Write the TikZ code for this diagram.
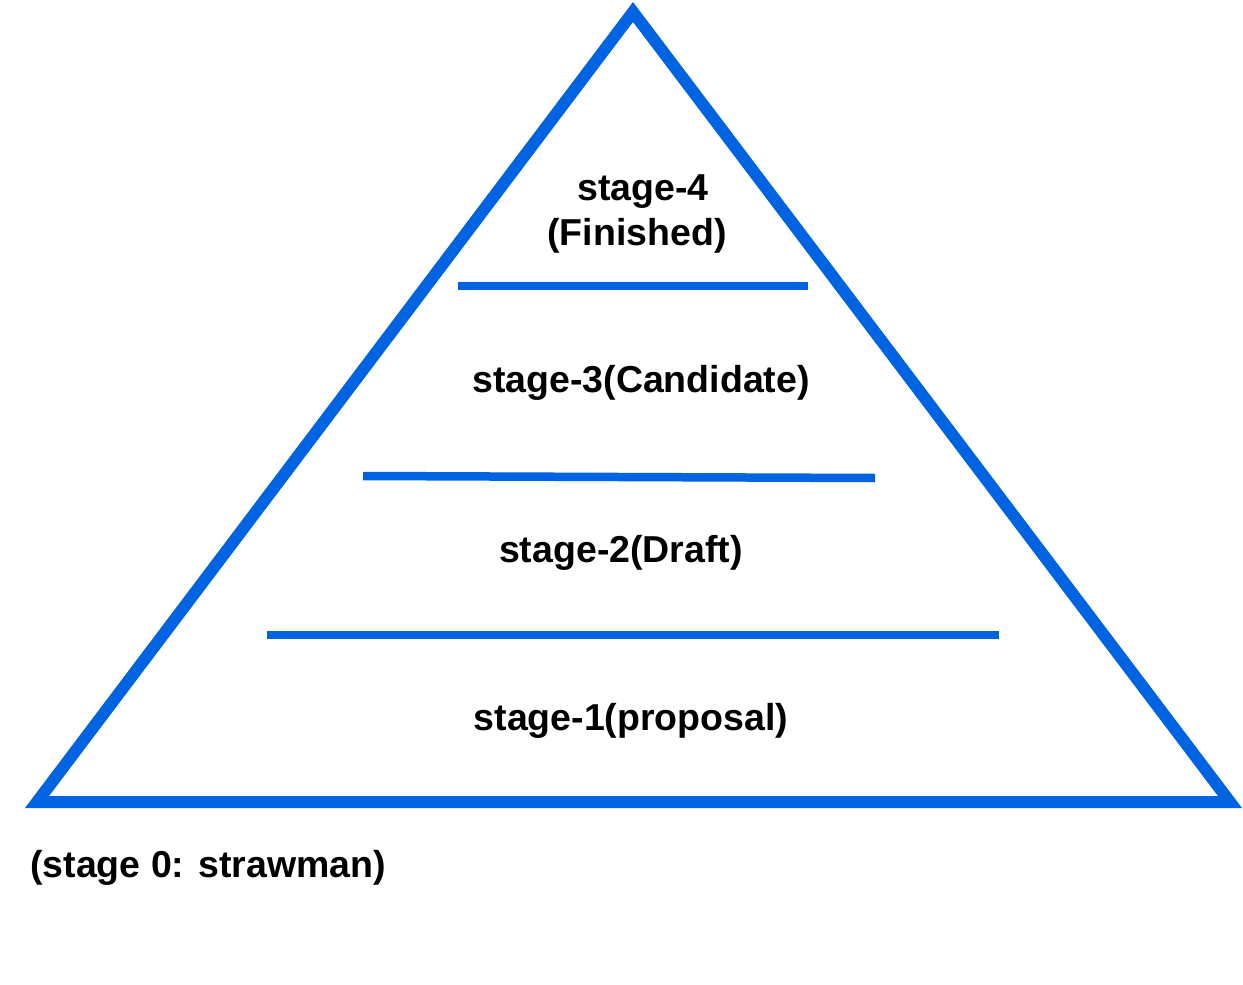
\documentclass[tikz,border=0pt]{standalone}
\usepackage{fontspec}
\setmainfont{Liberation Sans}
\usepackage{tikz}
\definecolor{pyrblue}{RGB}{0,99,225}
\tikzset{stg/.style={anchor=base,font=\bfseries\fontsize{37.5}{45}\selectfont,align=center,inner sep=0pt}}

\begin{document}
\begin{tikzpicture}[x=1pt,y=-1pt]
      \useasboundingbox (0,0) rectangle (1243,985);
      \coordinate (apex) at (633,12);
      \coordinate (lft) at (37,802);
      \coordinate (rgt) at (1230,802);
      \draw[pyrblue,line width=12pt,line join=miter] (apex) -- (rgt) -- (lft) -- cycle;
      \foreach \n/\xa/\ya/\xb/\yb in {1/458/286/808/286, 2/363/476/875/478, 3/267/635/999/635}{
      \coordinate (d\n a) at (\xa,\ya);
      \coordinate (d\n b) at (\xb,\yb);
      \draw[pyrblue,line width=8.5pt] (d\n a) -- (d\n b);
      }
      \node[stg] (s4) at (643,200) {stage-4};
      \node[stg] (s4b) at (637,245) {(Finished)};
      \node[stg] (s3) at (641,392) {stage-3(Candidate)};
      \node[stg] (s2) at (621,562) {stage-2(Draft)};
      \node[stg] (s1) at (631,730) {stage-1(proposal)};
      \node[stg,anchor=base west] (s0) at (30,877) {(stage 0: strawman)};
\end{tikzpicture}
\end{document}
